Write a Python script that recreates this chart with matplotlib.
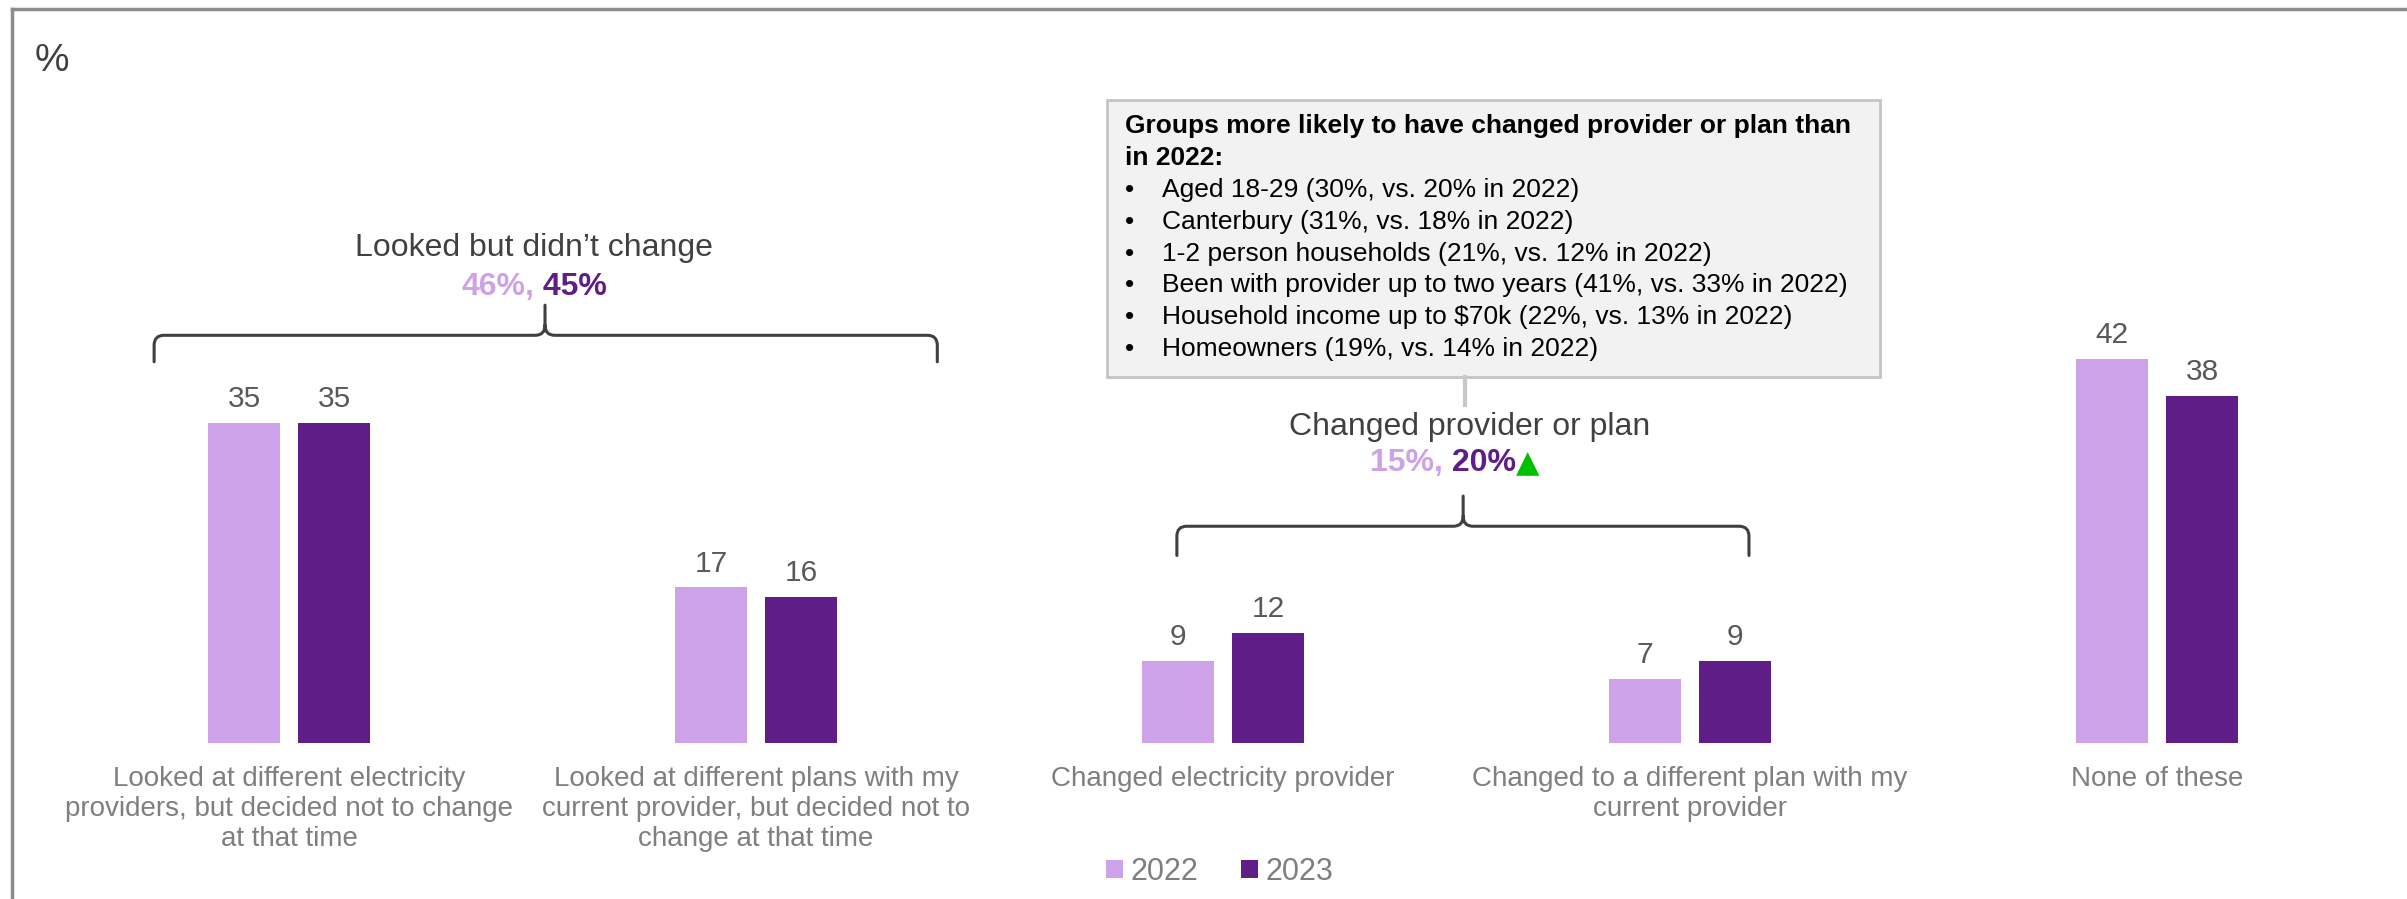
import matplotlib
matplotlib.use("Agg")
import numpy as np
import matplotlib.pyplot as plt
from matplotlib.path import Path
from matplotlib.patches import PathPatch, Rectangle
from matplotlib.lines import Line2D

plt.rcParams['font.family'] = ['Liberation Sans', 'DejaVu Sans']

categories = [
    "Looked at different electricity\nproviders, but decided not to change\nat that time",
    "Looked at different plans with my\ncurrent provider, but decided not to\nchange at that time",
    "Changed electricity provider",
    "Changed to a different plan with my\ncurrent provider",
    "None of these",
]
years = ["2022", "2023"]
values_2022 = [35, 17, 9, 7, 42]
values_2023 = [35, 16, 12, 9, 38]

group_titles = ["Looked but didn\u2019t change", "Changed provider or plan"]
group_2022 = ["46%", "15%"]
group_2023 = ["45%", "20%"]

callout_title = ["Groups more likely to have changed provider or plan than", "in 2022:"]
callout_items = [
    "Aged 18-29 (30%, vs. 20% in 2022)",
    "Canterbury (31%, vs. 18% in 2022)",
    "1-2 person households (21%, vs. 12% in 2022)",
    "Been with provider up to two years (41%, vs. 33% in 2022)",
    "Household income up to $70k (22%, vs. 13% in 2022)",
    "Homeowners (19%, vs. 14% in 2022)",
]

C22 = '#cda2e8'
C23 = '#5f1e87'
W, H = 2407, 899


def fx(px):
    return px / W


def fy(py):
    return 1 - py / H


def brace(ax, xl, xr, xm, yh, ye, yp, rx=0.021, ry=1.1):
    verts = [(xl, ye), (xl, yh - ry), (xl, yh), (xl + rx, yh), (xm - rx, yh),
             (xm, yh), (xm, yh + ry), (xm, yp),
             (xm, yh + ry), (xm, yh), (xm + rx, yh), (xr - rx, yh),
             (xr, yh), (xr, yh - ry), (xr, ye)]
    codes = [Path.MOVETO, Path.LINETO, Path.CURVE3, Path.CURVE3, Path.LINETO,
             Path.CURVE3, Path.CURVE3, Path.LINETO,
             Path.MOVETO, Path.CURVE3, Path.CURVE3, Path.LINETO,
             Path.CURVE3, Path.CURVE3, Path.LINETO]
    ax.add_patch(PathPatch(Path(verts, codes), fc='none', ec='#404040', lw=2.2,
                           capstyle='round', joinstyle='round'))


fig = plt.figure(figsize=(W / 100, H / 100), dpi=100)
ax = fig.add_axes([0, 0, 1, 1])
ax.axis('off')
ax.set_xlim(-0.619, 4.535)
ax.set_ylim(-17.1, 81.3)

x = np.arange(len(categories))
bw = 0.154
off = 0.0964
b1 = ax.bar(x - off, values_2022, width=bw, color=C22, label=years[0])
b2 = ax.bar(x + off, values_2023, width=bw, color=C23, label=years[1])

for xs, vals in [(x - off, values_2022), (x + off, values_2023)]:
    for xi, v in zip(xs, vals):
        ax.annotate(str(v), (xi, v), xytext=(0, 7), textcoords='offset points',
                    ha='center', va='bottom', fontsize=21.5, color='#595959')

for xi, lab in zip(x, categories):
    ax.text(xi, -2.55, lab, ha='center', va='top', fontsize=20, color='#7f7f7f',
            linespacing=1.2)

# brackets with group totals
brace(ax, -0.289, 1.388, 0.548, 44.6, 41.7, 47.9)
brace(ax, 1.901, 3.126, 2.514, 23.7, 20.5, 27.0)

ax.text(0.525, 54.2, group_titles[0], ha='center', va='center', fontsize=23, color='#404040')
ax.text(0.525, 49.9, group_2022[0] + ",", ha='right', va='center', fontsize=23,
        fontweight='bold', color=C22)
ax.text(0.525, 49.9, " " + group_2023[0], ha='left', va='center', fontsize=23,
        fontweight='bold', color=C23)

ax.text(2.527, 34.6, group_titles[1], ha='center', va='center', fontsize=23, color='#404040')
ax.text(2.471, 30.6, group_2022[1] + ",", ha='right', va='center', fontsize=23,
        fontweight='bold', color=C22)
t20 = ax.text(2.471, 30.6, " " + group_2023[1], ha='left', va='center', fontsize=23,
              fontweight='bold', color=C23)
ax.annotate("\u25b2", xy=(1, 0), xycoords=t20, ha='left', va='bottom',
            fontsize=22, color='#00c000', family=['DejaVu Sans'])

# callout box
fig.add_artist(Line2D([fx(1465), fx(1465)], [fy(377), fy(405)], color='#c8c8c8', lw=3))
fig.add_artist(Rectangle((fx(1107), fy(377)), fx(1880) - fx(1107), fy(100) - fy(377),
                         transform=fig.transFigure, fc='#f2f2f2', ec='#c4c4c4', lw=2))
for i, line in enumerate(callout_title):
    fig.text(fx(1125), fy(126 + 32 * i), line, ha='left', va='center', fontsize=19,
             fontweight='bold', color='black')
for i, item in enumerate(callout_items):
    yy = fy(190 + 31.8 * i)
    fig.text(fx(1125), yy, "\u2022", ha='left', va='center', fontsize=19, color='black')
    fig.text(fx(1162), yy, item, ha='left', va='center', fontsize=19, color='black')

# frame and unit label
fig.add_artist(Line2D([fx(12), 1], [fy(9), fy(9)], color='#8c8c8c', lw=2.5))
fig.add_artist(Line2D([fx(12), fx(12)], [0, fy(9)], color='#8c8c8c', lw=2.5))
fig.text(fx(35), fy(61), "%", ha='left', va='center', fontsize=28, color='#404040')

leg = ax.legend(handles=[b1, b2], loc='center', bbox_to_anchor=(fx(1220), fy(872)),
                bbox_transform=fig.transFigure, ncol=2, frameon=False, fontsize=22,
                handlelength=0.55, handleheight=0.55, handletextpad=0.25,
                columnspacing=1.4, borderpad=0)
for t in leg.get_texts():
    t.set_color('#7f7f7f')

fig.savefig("out.png", dpi=100)
